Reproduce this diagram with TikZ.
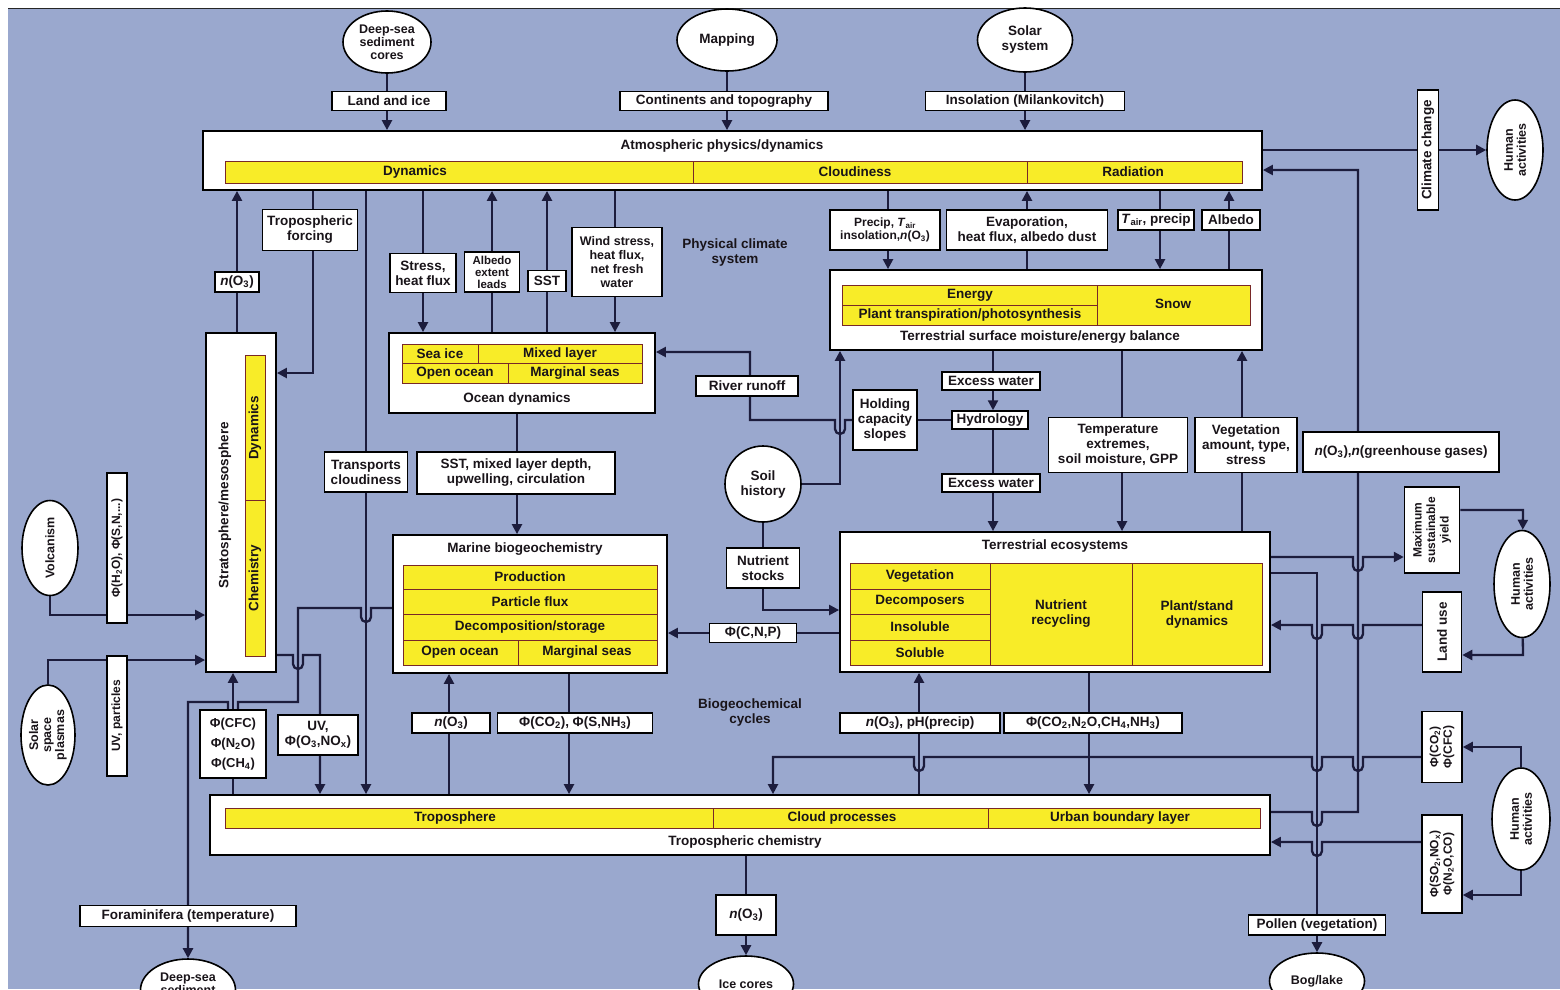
\documentclass[tikz,border=0pt]{standalone}
\usepackage{fontspec}
\setmainfont{Liberation Sans}
\usetikzlibrary{shapes.geometric,arrows.meta}
\definecolor{bgc}{RGB}{154,168,206}
\definecolor{lnc}{RGB}{28,28,60}
\definecolor{ylw}{RGB}{248,236,40}
\definecolor{ybd}{RGB}{120,40,40}
\definecolor{txc}{RGB}{25,20,25}
\pgfdeclarelayer{back}
\pgfdeclarelayer{lines}
\pgfsetlayers{back,lines,main}
\newcommand\lgf{\fontsize{13.5}{15}\selectfont\bfseries}
\newcommand\smf{\fontsize{12}{13.5}\selectfont\bfseries}
\newcommand\elf{\fontsize{12.5}{13}\selectfont\bfseries}
\newcommand\yrect[2]{\draw[cellst] (#1) rectangle (#2);}
\newcommand\jr[2]{-- ({#1-5},#2) -- ({#1-5},{#2+9}) arc[start angle=180,end angle=0,radius=5] -- ({#1+5},#2)}
\newcommand\jl[2]{-- ({#1+5},#2) -- ({#1+5},{#2+9}) arc[start angle=0,end angle=180,radius=5] -- ({#1-5},#2)}
\begin{document}
\begin{tikzpicture}[x=1pt,y=-1pt,
  lbl/.style={draw=black, fill=white, line width=1.5pt, inner sep=1pt, align=center, font=\lgf, text=txc},
  big/.style={draw=black, fill=white, line width=1.8pt, inner sep=0pt},
  cellst/.style={draw=ybd, fill=ylw, line width=0.8pt},
  ctx/.style={font=\lgf, inner sep=0pt, align=center, text=txc},
  ell/.style={ellipse, draw=black, fill=white, line width=1.6pt, inner sep=0pt, align=center, font=\elf, text=txc},
  con/.style={draw=lnc, line width=2.3pt},
  arr/.style={con, -{Triangle[length=10pt,width=10pt]}},
  rot/.style={rotate=90}]
\useasboundingbox (0,0) rectangle (1560,989);
\begin{pgfonlayer}{back}
\fill[white] (0,0) rectangle (1560,989);
\fill[bgc] (8,9) rectangle (1560,989);
\draw[black!85, line width=1.5pt] (8,8.5) -- (1560,8.5);
\end{pgfonlayer}

% ---------- top sources ----------
\node[ell, minimum width=88pt, minimum height=62pt] (e1) at (387,42) {Deep-sea\\sediment\\cores};
\node[ell, minimum width=100pt, minimum height=62pt, font=\lgf] (e2) at (727,40) {Mapping};
\node[ell, minimum width=95pt, minimum height=64pt, font=\lgf] (e3) at (1025,40) {Solar\\system};
\node[lbl, minimum width=114pt, minimum height=19pt] (l1) at (389,101) {Land and ice};
\node[lbl, minimum width=208pt, minimum height=19pt] (l2) at (724,101) {Continents and topography};
\node[lbl, minimum width=199pt, minimum height=19pt] (l3) at (1025,101) {Insolation (Milankovitch)};

% ---------- atmosphere ----------
\node[big, minimum width=1059pt, minimum height=59pt] (atm) at (732.5,160.5) {};
\node[ctx] (atmT) at (722,146) {Atmospheric physics/dynamics};
\yrect{225,161}{693,183}\yrect{693,161}{1027,183}\yrect{1027,161}{1242,183}
\node[ctx] (atmD) at (415,172) {Dynamics};
\node[ctx] (atmC) at (855,172) {Cloudiness};
\node[ctx] (atmR) at (1133,172) {Radiation};

\node[lbl, rot, minimum width=120pt, minimum height=21pt] (cc) at (1428,150) {Climate change};
\node[ell, rot, minimum width=100pt, minimum height=56pt] (h1) at (1515,150) {Human\\activities};

% ---------- labels under atmosphere ----------
\node[lbl, minimum width=44pt, minimum height=20pt] (o3a) at (237,282) {\textit{n}(O\textsubscript{3})};
\node[lbl, minimum width=95pt, minimum height=41pt] (tforc) at (310,230) {Tropospheric\\forcing};
\node[lbl, minimum width=66pt, minimum height=39pt] (stress) at (423,273) {Stress,\\heat flux};
\node[lbl, minimum width=55pt, minimum height=40pt, font=\fontsize{11.5}{12}\selectfont\bfseries] (albo) at (492,272) {Albedo\\extent\\leads};
\node[lbl, minimum width=38pt, minimum height=21pt] (sst) at (547,281) {SST};
\node[lbl, minimum width=90pt, minimum height=69pt, font=\fontsize{12.5}{14}\selectfont\bfseries] (wind) at (617,262) {Wind stress,\\heat flux,\\net fresh\\water};
\node[ctx] (pcs) at (735,253) {Physical climate\\system};
\node[lbl, minimum width=110pt, minimum height=40pt, font=\smf] (precip) at (885,230) {Precip, \textit{T}\textsubscript{air}\\insolation,\textit{n}(O\textsubscript{3})};
\node[lbl, minimum width=161pt, minimum height=40pt] (evap) at (1027,230) {Evaporation,\\heat flux, albedo dust};
\node[lbl, minimum width=76pt, minimum height=20pt] (tair) at (1156,220) {\textit{T}\textsubscript{air}, precip};
\node[lbl, minimum width=58pt, minimum height=20pt] (albd) at (1231,220) {Albedo};

% ---------- stratosphere ----------
\node[big, minimum width=70pt, minimum height=339pt] (strat) at (241,502.5) {};
\node[ctx, rot] (stratT) at (225,505) {Stratosphere/mesosphere};
\yrect{245,355}{265,500}\yrect{245,500}{265,656}
\node[ctx, rot] (stratD) at (255,428) {Dynamics};
\node[ctx, rot] (stratC) at (255,578) {Chemistry};

% ---------- ocean dynamics ----------
\node[big, minimum width=266pt, minimum height=80pt] (ocean) at (522,373) {};
\yrect{402,344}{478,363}\yrect{478,344}{642,363}\yrect{402,363}{508,383}\yrect{508,363}{642,383}
\node[ctx] (oSI) at (440,353.5) {Sea ice};
\node[ctx] (oML) at (560,353.5) {Mixed layer};
\node[ctx] (oOO) at (455,373) {Open ocean};
\node[ctx] (oMS) at (575,373) {Marginal seas};
\node[ctx] (oT) at (517,399) {Ocean dynamics};

\node[lbl, minimum width=83pt, minimum height=40pt] (trans) at (366,472) {Transports\\cloudiness};
\node[lbl, minimum width=198pt, minimum height=42pt] (sstmix) at (516,473) {SST, mixed layer depth,\\upwelling, circulation};

% ---------- marine ----------
\node[big, minimum width=274pt, minimum height=138pt] (marine) at (530,604) {};
\node[ctx] (mT) at (525,549) {Marine biogeochemistry};
\yrect{403,565}{657,589}\yrect{403,589}{657,614}\yrect{403,614}{657,640}\yrect{403,640}{518,665}\yrect{518,640}{657,665}
\node[ctx] (mP) at (530,577) {Production};
\node[ctx] (mF) at (530,601.5) {Particle flux};
\node[ctx] (mD) at (530,627) {Decomposition/storage};
\node[ctx] (mO) at (460,652.5) {Open ocean};
\node[ctx] (mM) at (587,652.5) {Marginal seas};

% ---------- terrestrial surface ----------
\node[big, minimum width=432pt, minimum height=80pt] (tsurf) at (1046,310) {};
\yrect{842,285}{1097,305}\yrect{842,305}{1097,325}\yrect{1097,285}{1250,325}
\node[ctx] (tsE) at (970,295) {Energy};
\node[ctx] (tsP) at (970,315) {Plant transpiration/photosynthesis};
\node[ctx] (tsS) at (1173,304) {Snow};
\node[ctx] (tsT) at (1040,337) {Terrestrial surface moisture/energy balance};

\node[lbl, minimum width=102pt, minimum height=20pt] (river) at (747,386) {River runoff};
\node[lbl, minimum width=64pt, minimum height=60pt] (hold) at (885,420) {Holding\\capacity\\slopes};
\node[lbl, minimum width=76pt, minimum height=18pt] (hyd) at (990,420) {Hydrology};
\node[lbl, minimum width=98pt, minimum height=18pt] (ex1) at (991,381) {Excess water};
\node[lbl, minimum width=98pt, minimum height=18pt] (ex2) at (991,483) {Excess water};
\node[lbl, minimum width=139pt, minimum height=55pt] (temp) at (1118,445) {Temperature\\extremes,\\soil moisture, GPP};
\node[lbl, minimum width=102pt, minimum height=55pt] (veg) at (1246,445) {Vegetation\\amount, type,\\stress};
\node[lbl, minimum width=196pt, minimum height=40pt] (nog) at (1401,452) {\textit{n}(O\textsubscript{3}),\textit{n}(greenhouse gases)};

\node[circle, draw=black, fill=white, line width=1.6pt, minimum size=76pt, inner sep=0pt, align=center, font=\lgf, text=txc] (soil) at (763,484) {Soil\\history};
\node[lbl, minimum width=73pt, minimum height=40pt] (nutr) at (763,568) {Nutrient\\stocks};
\node[lbl, minimum width=87pt, minimum height=19pt] (cnp) at (753,633) {Φ(C,N,P)};

% ---------- terrestrial ecosystems ----------
\node[big, minimum width=430pt, minimum height=140pt] (teco) at (1055,602) {};
\node[ctx] (teT) at (1055,546) {Terrestrial ecosystems};
\yrect{850,563}{990,589}\yrect{850,589}{990,614}\yrect{850,614}{990,640}\yrect{850,640}{990,665}
\yrect{990,563}{1132,665}\yrect{1132,563}{1262,665}
\node[ctx] (teV) at (920,576) {Vegetation};
\node[ctx] (teD) at (920,601.5) {Decomposers};
\node[ctx] (teI) at (920,627) {Insoluble};
\node[ctx] (teS) at (920,652.5) {Soluble};
\node[ctx] (teN) at (1061,614) {Nutrient\\recycling};
\node[ctx] (teP) at (1197,614) {Plant/stand\\dynamics};

% ---------- right side ----------
\node[lbl, rot, minimum width=86pt, minimum height=55pt, font=\smf] (msy) at (1432,530) {Maximum\\sustainable\\yield};
\node[ell, rot, minimum width=107pt, minimum height=56pt] (h3) at (1522,584) {Human\\activities};
\node[lbl, rot, minimum width=80pt, minimum height=39pt] (luse) at (1442,632) {Land use};
\node[lbl, rot, minimum width=71pt, minimum height=40pt, font=\smf] (hco2) at (1442,747) {Φ(CO\textsubscript{2})\\Φ(CFC)};
\node[ell, rot, minimum width=102pt, minimum height=58pt] (h2) at (1521,819) {Human\\activities};
\node[lbl, rot, minimum width=98pt, minimum height=40pt, font=\smf] (hso2) at (1442,864) {Φ(SO\textsubscript{2},NO\textsubscript{x})\\Φ(N\textsubscript{2}O,CO)};

% ---------- left side ----------
\node[ell, rot, minimum width=95pt, minimum height=56pt] (volc) at (50,548) {Volcanism};
\node[lbl, rot, minimum width=150pt, minimum height=20pt, font=\smf] (phih) at (117,548) {Φ(H\textsubscript{2}O), Φ(S,N,...)};
\node[ell, rot, minimum width=100pt, minimum height=54pt] (sol) at (48,735) {Solar\\space\\plasmas};
\node[lbl, rot, minimum width=120pt, minimum height=20pt, font=\smf] (uvp) at (117,716) {UV, particles};
\node[lbl, minimum width=66pt, minimum height=68pt, font=\fontsize{13}{20}\selectfont\bfseries] (cfc) at (233,744) {Φ(CFC)\\Φ(N\textsubscript{2}O)\\Φ(CH\textsubscript{4})};
\node[lbl, minimum width=80pt, minimum height=40pt] (uvo) at (318,735) {UV,\\Φ(O\textsubscript{3},NO\textsubscript{x})};

% ---------- lower labels ----------
\node[lbl, minimum width=78pt, minimum height=20pt] (o3m) at (451,723) {\textit{n}(O\textsubscript{3})};
\node[lbl, minimum width=155pt, minimum height=20pt] (co2s) at (575,723) {Φ(CO\textsubscript{2}), Φ(S,NH\textsubscript{3})};
\node[ctx] (bgc) at (750,712) {Biogeochemical\\cycles};
\node[lbl, minimum width=160pt, minimum height=20pt] (o3ph) at (920,723) {\textit{n}(O\textsubscript{3}), pH(precip)};
\node[lbl, minimum width=178pt, minimum height=20pt] (co2n) at (1093,723) {Φ(CO\textsubscript{2},N\textsubscript{2}O,CH\textsubscript{4},NH\textsubscript{3})};

% ---------- troposphere ----------
\node[big, minimum width=1060pt, minimum height=60pt] (trop) at (740,825) {};
\yrect{225,808}{713,828}\yrect{713,808}{988,828}\yrect{988,808}{1260,828}
\node[ctx] (trT) at (455,818) {Troposphere};
\node[ctx] (trC) at (842,818) {Cloud processes};
\node[ctx] (trU) at (1120,818) {Urban boundary layer};
\node[ctx] (trTitle) at (745,842) {Tropospheric chemistry};

% ---------- bottom records ----------
\node[lbl, minimum width=216pt, minimum height=21pt] (foram) at (188,916) {Foraminifera (temperature)};
\node[ell, minimum width=95pt, minimum height=62pt] (e4) at (188,990) {Deep-sea\\sediment\\cores};
\node[lbl, minimum width=60pt, minimum height=40pt] (o3i) at (746,915) {\textit{n}(O\textsubscript{3})};
\node[ell, minimum width=95pt, minimum height=56pt] (ice) at (746,984) {Ice cores};
\node[lbl, minimum width=137pt, minimum height=20pt] (pollen) at (1317,925) {Pollen (vegetation)};
\node[ell, minimum width=95pt, minimum height=56pt] (bog) at (1317,981) {Bog/lake};

% ---------- connectors ----------
\begin{pgfonlayer}{lines}
\draw[con] (e1.south) -- (e1.south |- l1.north);
\draw[arr] (e1.south |- l1.south) -- (e1.south |- atm.north);
\draw[con] (e2.south) -- (e2.south |- l2.north);
\draw[arr] (e2.south |- l2.south) -- (e2.south |- atm.north);
\draw[con] (e3.south) -- (e3.south |- l3.north);
\draw[arr] (e3.south |- l3.south) -- (e3.south |- atm.north);
\draw[arr] (atm.east |- cc) -- (h1);
\draw[arr] (trop.east |- 0,812) \jr{1317}{812} -- (1358,812) -- (1358,170) -- (atm.east |- 0,170);
% atmosphere - stratosphere / ocean
\draw[arr] (237,0 |- strat.north) -- (237,0 |- atm.south);
\draw[arr] (313,0 |- atm.south) -- (313,373) -- (strat.east |- 0,373);
\draw[arr] (366,0 |- atm.south) -- (366,0 |- trop.north);
\draw[arr] (423,0 |- atm.south) -- (423,0 |- ocean.north);
\draw[arr] (492,0 |- ocean.north) -- (492,0 |- atm.south);
\draw[arr] (547,0 |- ocean.north) -- (547,0 |- atm.south);
\draw[arr] (615,0 |- atm.south) -- (615,0 |- ocean.north);
% atmosphere - land surface
\draw[arr] (888,0 |- atm.south) -- (888,0 |- tsurf.north);
\draw[arr] (1027,0 |- tsurf.north) -- (1027,0 |- atm.south);
\draw[arr] (1160,0 |- atm.south) -- (1160,0 |- tsurf.north);
\draw[arr] (1229,0 |- tsurf.north) -- (1229,0 |- atm.south);
% ocean - marine
\draw[arr] (517,0 |- ocean.south) -- (517,0 |- marine.north);
% hydrology / runoff
\draw[con] (hyd.west) -- (hold.east);
\draw[arr] (hold.west) \jl{840}{420} -- (750,420) -- (750,352) -- (ocean.east |- 0,352);
\draw[arr] (soil.east) -- (840,0 |- soil.east) -- (840,0 |- tsurf.south);
\draw[con] (soil.south) -- (nutr.north);
\draw[arr] (nutr.south) -- (763,610) -- (teco.west |- 0,610);
\draw[arr] (teco.west |- cnp) -- (marine.east |- cnp);
\draw[arr] (993,0 |- tsurf.south) -- (993,0 |- hyd.north);
\draw[arr] (993,0 |- hyd.south) -- (993,0 |- teco.north);
\draw[arr] (1122,0 |- tsurf.south) -- (1122,0 |- teco.north);
\draw[arr] (1242,0 |- teco.north) -- (1242,0 |- tsurf.south);
% marine / stratosphere / troposphere on the left
\draw[arr] (marine.west |- 0,608) \jl{366}{608} -- (298,608) -- (298,702) \jl{233}{702} -- (188,702) -- (188,0 |- e4.north);
\draw[arr] (strat.east |- 0,655) \jr{298}{655} -- (320,655) -- (320,0 |- trop.north);
\draw[arr] (233,0 |- trop.north) -- (233,0 |- strat.south);
\draw[arr] (volc) -- (50,615) -- (strat.west |- 0,615);
\draw[arr] (sol) -- (48,660) -- (strat.west |- 0,660);
% biogeochemical exchanges with troposphere
\draw[arr] (449,0 |- trop.north) -- (449,0 |- marine.south);
\draw[arr] (569,0 |- marine.south) -- (569,0 |- trop.north);
\draw[arr] (919,0 |- trop.north) -- (919,0 |- teco.south);
\draw[arr] (1089,0 |- teco.south) -- (1089,0 |- trop.north);
% human activities
\draw[arr] (h2) -- (1521,0 |- hco2.south) -- (hco2.south);
\draw[arr] (hco2.north |- 0,757) \jl{1358}{757} \jl{1317}{757} -- (1089,757) \jl{919}{757} -- (773,757) -- (773,0 |- trop.north);
\draw[arr] (h2) -- (1521,895) -- (hso2.south |- 0,895);
\draw[arr] (hso2.north |- 0,842) \jl{1317}{842} -- (trop.east |- 0,842);
\draw[arr] (teco.east |- 0,557) \jr{1358}{557} -- (msy.north |- 0,557);
\draw[arr] (msy.south |- 0,510) -- (1523,510) -- (h3);
\draw[arr] (h3) -- (1523,655) -- (luse.south |- 0,655);
\draw[arr] (luse.north |- 0,625) \jl{1358}{625} \jl{1317}{625} -- (teco.east |- 0,625);
\draw[con] (teco.east |- 0,573) -- (1317,573) -- (1317,0 |- pollen.north);
\draw[arr] (pollen.south) -- (bog);
% ice cores
\draw[con] (trop.south -| o3i) -- (o3i.north);
\draw[arr] (o3i.south) -- (ice);
\end{pgfonlayer}
\end{tikzpicture}
\end{document}
